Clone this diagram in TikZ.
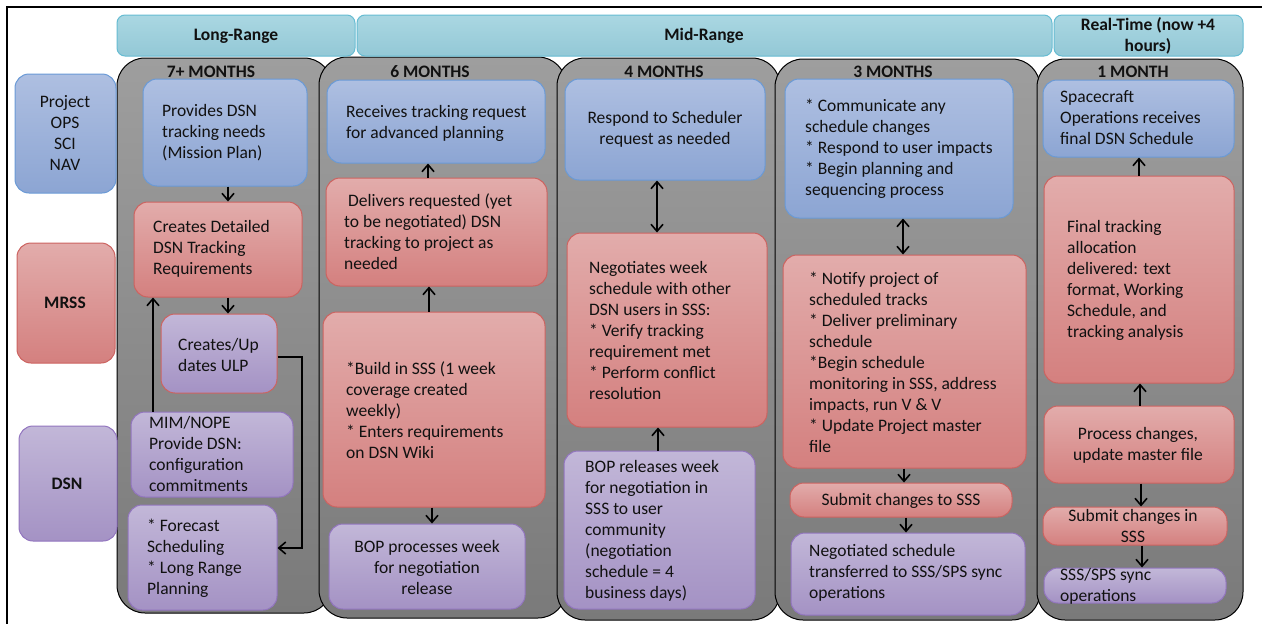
\documentclass[tikz,border=0pt]{standalone}
\usepackage{fontspec}
\setmainfont{Carlito}
\usetikzlibrary{arrows.meta,fit}
\definecolor{txtc}{HTML}{111111}
\definecolor{blueT}{HTML}{AEBFE1}
\definecolor{blueD}{HTML}{8CA5D3}
\definecolor{blueB}{HTML}{6A9AD6}
\definecolor{redT}{HTML}{E2ACAB}
\definecolor{redD}{HTML}{D4807F}
\definecolor{redB}{HTML}{CC6360}
\definecolor{purT}{HTML}{C2B7D8}
\definecolor{purD}{HTML}{A492C4}
\definecolor{purB}{HTML}{9275BF}
\definecolor{hdT}{HTML}{AAD7E2}
\definecolor{hdD}{HTML}{93C8D6}
\definecolor{hdB}{HTML}{66BCD2}
\definecolor{colT}{HTML}{9E9E9E}
\definecolor{colD}{HTML}{7A7A7A}
\tikzset{
  fnt/.style={font=\fontsize{17.5pt}{21pt}\selectfont},
  txt/.style={fnt, inner sep=0pt, text=txtc, align=left, anchor=west},
  ctxt/.style={fnt, inner sep=0pt, text=txtc, align=center},
  btxt/.style={inner sep=0pt, text=txtc, align=center, font=\fontsize{17.5pt}{21pt}\selectfont\bfseries},
  boxbase/.style={inner sep=0pt, rounded corners=14pt, line width=1pt},
  bluebox/.style={boxbase, draw=blueB, top color=blueT, bottom color=blueD},
  redbox/.style={boxbase, draw=redB, top color=redT, bottom color=redD},
  purbox/.style={boxbase, draw=purB, top color=purT, bottom color=purD},
  purredbox/.style={boxbase, draw=redB, top color=purT, bottom color=purD},
  headbox/.style={boxbase, rounded corners=8pt, draw=hdB, top color=hdT, bottom color=hdD},
  colbox/.style={inner sep=0pt, rounded corners=28pt, line width=1pt, draw=black, top color=colT, bottom color=colD},
  arr/.style={line width=1.6pt, draw=black, -{Straight Barb[length=7pt,width=12pt]}},
  darr/.style={line width=1.6pt, draw=black, {Straight Barb[length=7pt,width=12pt]}-{Straight Barb[length=7pt,width=12pt]}}
}
\newcommand\bx[6]{\node[#1, fit={(#3,#4) (#5,#6)}] (#2) {};}
\begin{document}
\begin{tikzpicture}[x=1pt,y=-1pt]
\useasboundingbox (0,0) rectangle (1262,624);
% frame
\draw[line width=1.5pt] (7,624) -- (7,7) -- (1262,7);
% columns
\bx{colbox}{c1}{117}{58}{332}{613}
\bx{colbox}{c2}{319}{57}{566}{618}
\bx{colbox}{c3}{557}{58}{780}{620}
\bx{colbox}{c4}{775}{59}{1040}{620}
\bx{colbox}{c5}{1037}{59}{1243}{620}
% headers
\bx{headbox}{hLR}{117}{15}{355}{56}
\bx{headbox}{hMR}{357}{15}{1052}{56}
\bx{headbox}{hRT}{1054}{15}{1243}{56}
\node[btxt] (hLRt) at (236,36) {Long-Range};
\node[btxt] (hMRt) at (704,36) {Mid-Range};
\node[btxt] (hRTt) at (1148,36) {Real-Time (now +4\\hours)};
% column titles
\node[btxt] (t1) at (211,72) {7+ MONTHS};
\node[btxt] (t2) at (430,72) {6 MONTHS};
\node[btxt] (t3) at (664,72) {4 MONTHS};
\node[btxt] (t4) at (893,72) {3 MONTHS};
\node[btxt] (t5) at (1133,72) {1 MONTH};
% row labels
\bx{bluebox}{lP}{15}{74}{116}{193}
\bx{redbox}{lM}{17}{243}{115}{363}
\bx{purbox}{lD}{19}{426}{117}{541}
\node[ctxt] (lPt) at (65,133) {Project\\OPS\\SCI\\NAV};
\node[btxt] (lMt) at (65,303) {MRSS};
\node[btxt] (lDt) at (67,484) {DSN};
% column 1
\bx{bluebox}{b11}{143}{79}{307}{186}
\bx{redbox}{b12}{134}{202}{302}{297}
\bx{purredbox}{b13}{161}{314}{277}{393}
\bx{purbox}{b14}{131}{412}{293}{497}
\bx{purbox}{b15}{128}{505}{277}{610}
\node[txt] (b11t) at (162,133) {Provides DSN\\tracking needs\\(Mission Plan)};
\node[txt] (b12t) at (153,249) {Creates Detailed\\DSN Tracking\\Requirements};
\node[txt] (b13t) at (178,355) {Creates/Up\\dates ULP};
\node[txt] (b14t) at (149,454) {MIM/NOPE\\Provide DSN:\\configuration\\commitments};
\node[txt] (b15t) at (147,558) {* Forecast\\Scheduling\\* Long Range\\Planning};
% column 2
\bx{bluebox}{b21}{327}{80}{545}{163}
\bx{redbox}{b22}{326}{178}{547}{286}
\bx{redbox}{b23}{323}{312}{545}{507}
\bx{purbox}{b24}{329}{524}{525}{609}
\node[txt] (b21t) at (346,123) {Receives tracking request\\for advanced planning};
\node[txt] (b22t) at (344,232) {\hspace*{4pt}Delivers requested (yet\\to be negotiated) DSN\\tracking to project as\\needed};
\node[txt] (b23t) at (346,410) {*Build in SSS (1 week\\coverage created\\weekly)\\* Enters requirements\\on DSN Wiki};
\node[ctxt] (b24t) at (427,567) {BOP processes week\\for negotiation\\release};
% column 3
\bx{bluebox}{b31}{565}{79}{765}{180}
\bx{redbox}{b32}{567}{233}{767}{427}
\bx{purbox}{b33}{564}{451}{755}{609}
\node[ctxt] (b31t) at (665,129) {Respond to Scheduler\\request as needed};
\node[txt] (b32t) at (589,330) {Negotiates week\\schedule with other\\DSN users in SSS:\\* Verify tracking\\requirement met\\* Perform conflict\\resolution};
\node[txt] (b33t) at (585,531) {BOP releases week\\for negotiation in\\SSS to user\\community\\(negotiation\\schedule = 4\\business days)};
% column 4
\bx{bluebox}{b41}{785}{79}{1013}{218}
\bx{redbox}{b42}{783}{255}{1026}{468}
\bx{redbox}{b43}{790}{483}{1012}{517}
\bx{purbox}{b44}{791}{533}{1025}{615}
\node[txt] (b41t) at (805,149) {* Communicate any\\schedule changes\\* Respond to user impacts\\* Begin planning and\\sequencing process};
\node[txt] (b42t) at (809,362) {* Notify project of\\scheduled tracks\\* Deliver preliminary\\schedule\\*Begin schedule\\monitoring in SSS, address\\impacts, run V \& V\\* Update Project master\\file};
\node[ctxt] (b43t) at (901,501) {Submit changes to SSS};
\node[txt] (b44t) at (809,573) {Negotiated schedule\\transferred to SSS/SPS sync\\operations};
% column 5
\bx{bluebox}{b51}{1043}{80}{1234}{157}
\bx{redbox}{b52}{1044}{176}{1234}{383}
\bx{redbox}{b53}{1044}{406}{1234}{483}
\bx{redbox}{b54}{1043}{507}{1227}{545}
\bx{purbox}{b55}{1044}{568}{1226}{603}
\node[txt] (b51t) at (1060,118) {Spacecraft\\Operations receives\\final DSN Schedule};
\node[txt] (b52t) at (1067,280) {Final tracking\\allocation\\delivered: text\\format, Working\\Schedule, and\\tracking analysis};
\node[ctxt] (b53t) at (1138,445) {Process changes,\\update master file};
\node[ctxt] (b54t) at (1133,526) {Submit changes in\\SSS};
\node[txt] (b55t) at (1060,586) {SSS/SPS sync\\operations};
% arrow helper coordinates
\coordinate (x1) at (228,0);
\coordinate (x2) at (153,0);
\coordinate (e1) at (302,357);
\coordinate (e2) at (302,548);
\coordinate (x3) at (428,0);
\coordinate (x4) at (429,0);
\coordinate (x5) at (432,0);
\coordinate (x6) at (657,0);
\coordinate (x7) at (658,0);
\coordinate (x8) at (903,0);
\coordinate (x9) at (904,0);
\coordinate (x10) at (906,0);
\coordinate (x11) at (1139,0);
\coordinate (x12) at (1140,0);
\coordinate (x13) at (1141,0);
\coordinate (x14) at (1142,0);
% arrows column 1
\draw[arr] (b11.south -| x1) -- (b12.north -| x1);
\draw[arr] (b12.south -| x1) -- (b13.north -| x1);
\draw[arr] (b14.north -| x2) -- (b12.south -| x2);
\draw[arr] (b13.east |- e1) -- (e1) -- (e2) -- (b15.east |- e2);
% arrows column 2
\draw[arr] (b22.north -| x3) -- (b21.south -| x3);
\draw[arr] (b23.north -| x4) -- (b22.south -| x4);
\draw[arr] (b23.south -| x5) -- (b24.north -| x5);
% arrows column 3
\draw[darr] (b31.south -| x6) -- (b32.north -| x6);
\draw[arr] (b33.north -| x7) -- (b32.south -| x7);
% arrows column 4
\draw[darr] (b41.south -| x8) -- (b42.north -| x8);
\draw[arr] (b42.south -| x9) -- (b43.north -| x9);
\draw[arr] (b43.south -| x10) -- (b44.north -| x10);
% arrows column 5
\draw[arr] (b52.north -| x11) -- (b51.south -| x11);
\draw[arr] (b53.north -| x12) -- (b52.south -| x12);
\draw[arr] (b53.south -| x13) -- (b54.north -| x13);
\draw[arr] (b54.south -| x14) -- (b55.north -| x14);
\end{tikzpicture}
\end{document}
